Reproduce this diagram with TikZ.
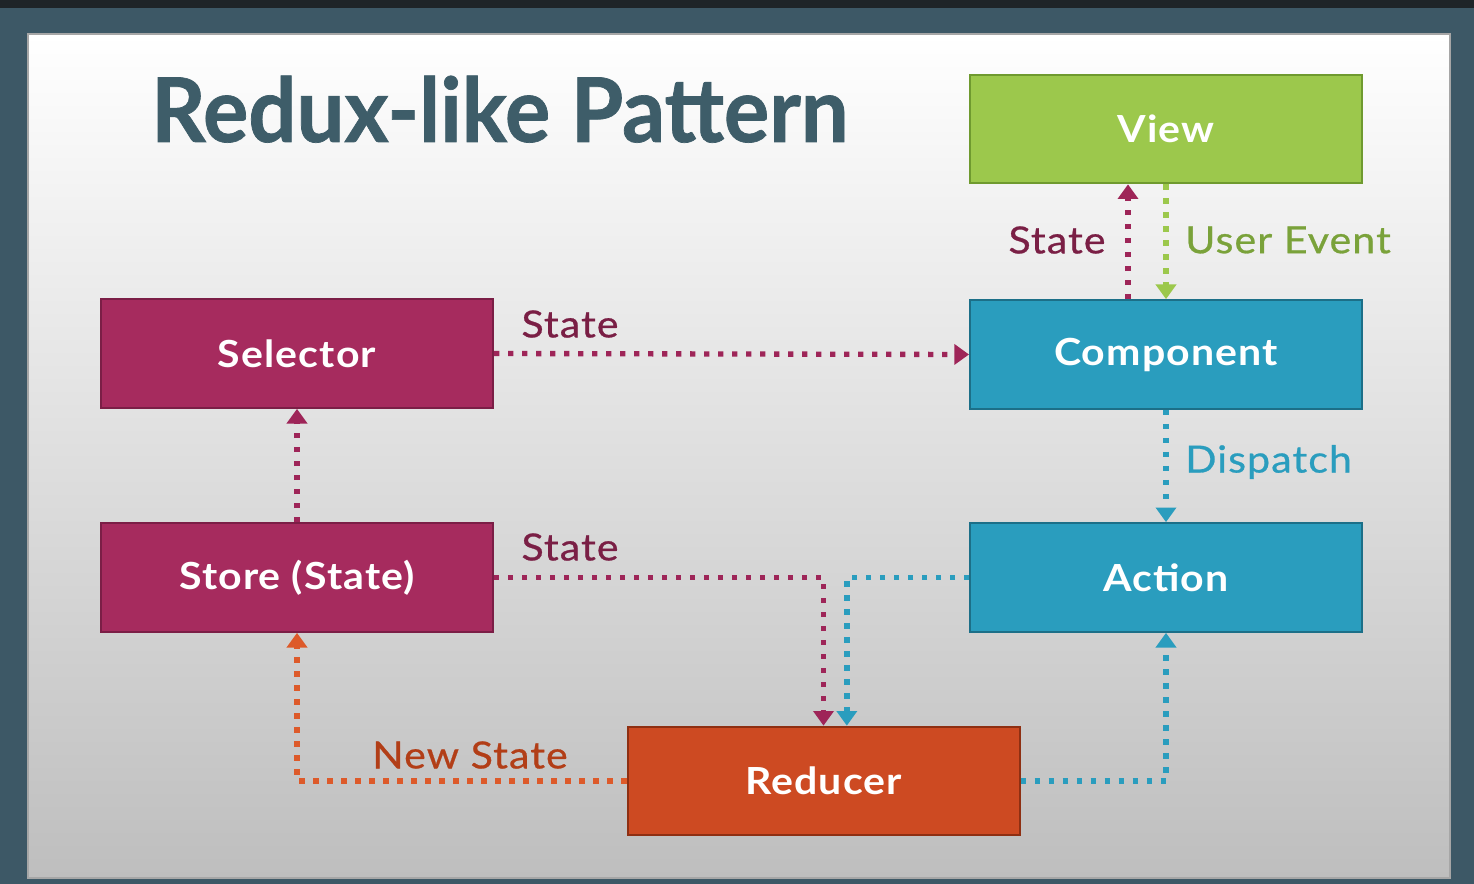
\documentclass[tikz,border=0pt]{standalone}
\usepackage{fontspec}
\setmainfont{Lato}
\newfontfamily\boxfont[FakeStretch=1.1,LetterSpace=3]{Lato Bold}
\newfontfamily\lblfont[FakeStretch=1.1,LetterSpace=3,FakeBold=0.7]{Lato}
\newfontfamily\titlefont[FakeStretch=0.95,FakeBold=0.8]{Lato Bold}
\usetikzlibrary{arrows.meta,calc}
\definecolor{frame}{HTML}{3D5866}
\definecolor{topbar}{HTML}{1E2428}
\definecolor{slidebot}{HTML}{BEBEBE}
\definecolor{titlec}{HTML}{3E5D69}
\definecolor{magfill}{HTML}{A62B5E}
\definecolor{magline}{HTML}{7B1E46}
\definecolor{bluefill}{HTML}{2A9DBE}
\definecolor{blueline}{HTML}{1C6F88}
\definecolor{greenfill}{HTML}{9CC84C}
\definecolor{greenline}{HTML}{6F9A2F}
\definecolor{orfill}{HTML}{CD4A22}
\definecolor{orline}{HTML}{8E2F12}
\definecolor{magtext}{HTML}{7A1F45}
\definecolor{greentext}{HTML}{7AA23A}
\definecolor{ortext}{HTML}{B23E17}
\definecolor{magdot}{HTML}{9E2558}
\definecolor{ordot}{HTML}{DD5A2A}
\tikzset{
  box/.style={draw, line width=1.5pt, minimum width=294pt, minimum height=81.5pt,
    inner sep=0pt, text=white, font=\fontsize{28}{32}\boxfont},
  magbox/.style={box, fill=magfill, draw=magline},
  bluebox/.style={box, fill=bluefill, draw=blueline},
  greenbox/.style={box, fill=greenfill, draw=greenline},
  orbox/.style={box, fill=orfill, draw=orline},
  dotline/.style={line width=4pt, dash pattern=on 4pt off 6.5pt,
    -{Triangle[width=15pt,length=11pt]}},
  lbl/.style={font=\fontsize{28}{32}\lblfont, inner sep=0pt}
}
\begin{document}
\begin{tikzpicture}[x=0.75pt,y=-0.75pt]
\useasboundingbox (0,0) rectangle (1474,884);
\fill[frame] (0,0) rectangle (1474,884);
\fill[topbar] (0,0) rectangle (1474,8);
\shade[top color=white, bottom color=slidebot] (28,34) rectangle (1450,878);
\draw[gray!70, line width=0.8pt] (28,34) rectangle (1450,878);

\node[anchor=base west, inner sep=0pt, text=titlec, font=\fontsize{67}{78}\titlefont] (title) at (151,142) {Redux-like Pattern};

\node[greenbox] (view) at (1166,129) {View};
\node[bluebox] (comp) at (1166,354.5) {Component};
\node[bluebox] (act) at (1166,577.5) {Action};
\node[magbox] (sel) at (297,353.5) {Selector};
\node[magbox] (store) at (297,577.5) {Store (State)};
\node[orbox] (red) at (823.5,781) {Reducer};

% connectors
\draw[dotline, magdot] ([xshift=-28.5pt]comp.north) -- ([xshift=-28.5pt]view.south);
\draw[dotline, greenfill] (view.south) -- (comp.north);
\draw[dotline, magdot] (sel.east) -- (comp.west);
\draw[dotline, bluefill] (comp.south) -- (act.north);
\draw[dotline, magdot] (store.north) -- (sel.south);
\draw[dotline, magdot] (store.east) -| (red.north);
\draw[dotline, bluefill] (act.west) -| ([xshift=17.5pt]red.north);
\draw[dotline, ordot] (red.west) -| (store.south);
\draw[dotline, bluefill] (red.east) -| (act.south);

% labels
\node[lbl, text=magtext] (l1) at (1057,240) {State};
\node[lbl, text=greentext, anchor=west] (l2) at (1185,240) {User Event};
\node[lbl, text=magtext] (l3) at (570,324) {State};
\node[lbl, text=bluefill, anchor=west] (l4) at (1185,462) {Dispatch};
\node[lbl, text=magtext] (l5) at (570,547) {State};
\node[lbl, text=ortext] (l6) at (470,755) {New State};
\end{tikzpicture}
\end{document}
